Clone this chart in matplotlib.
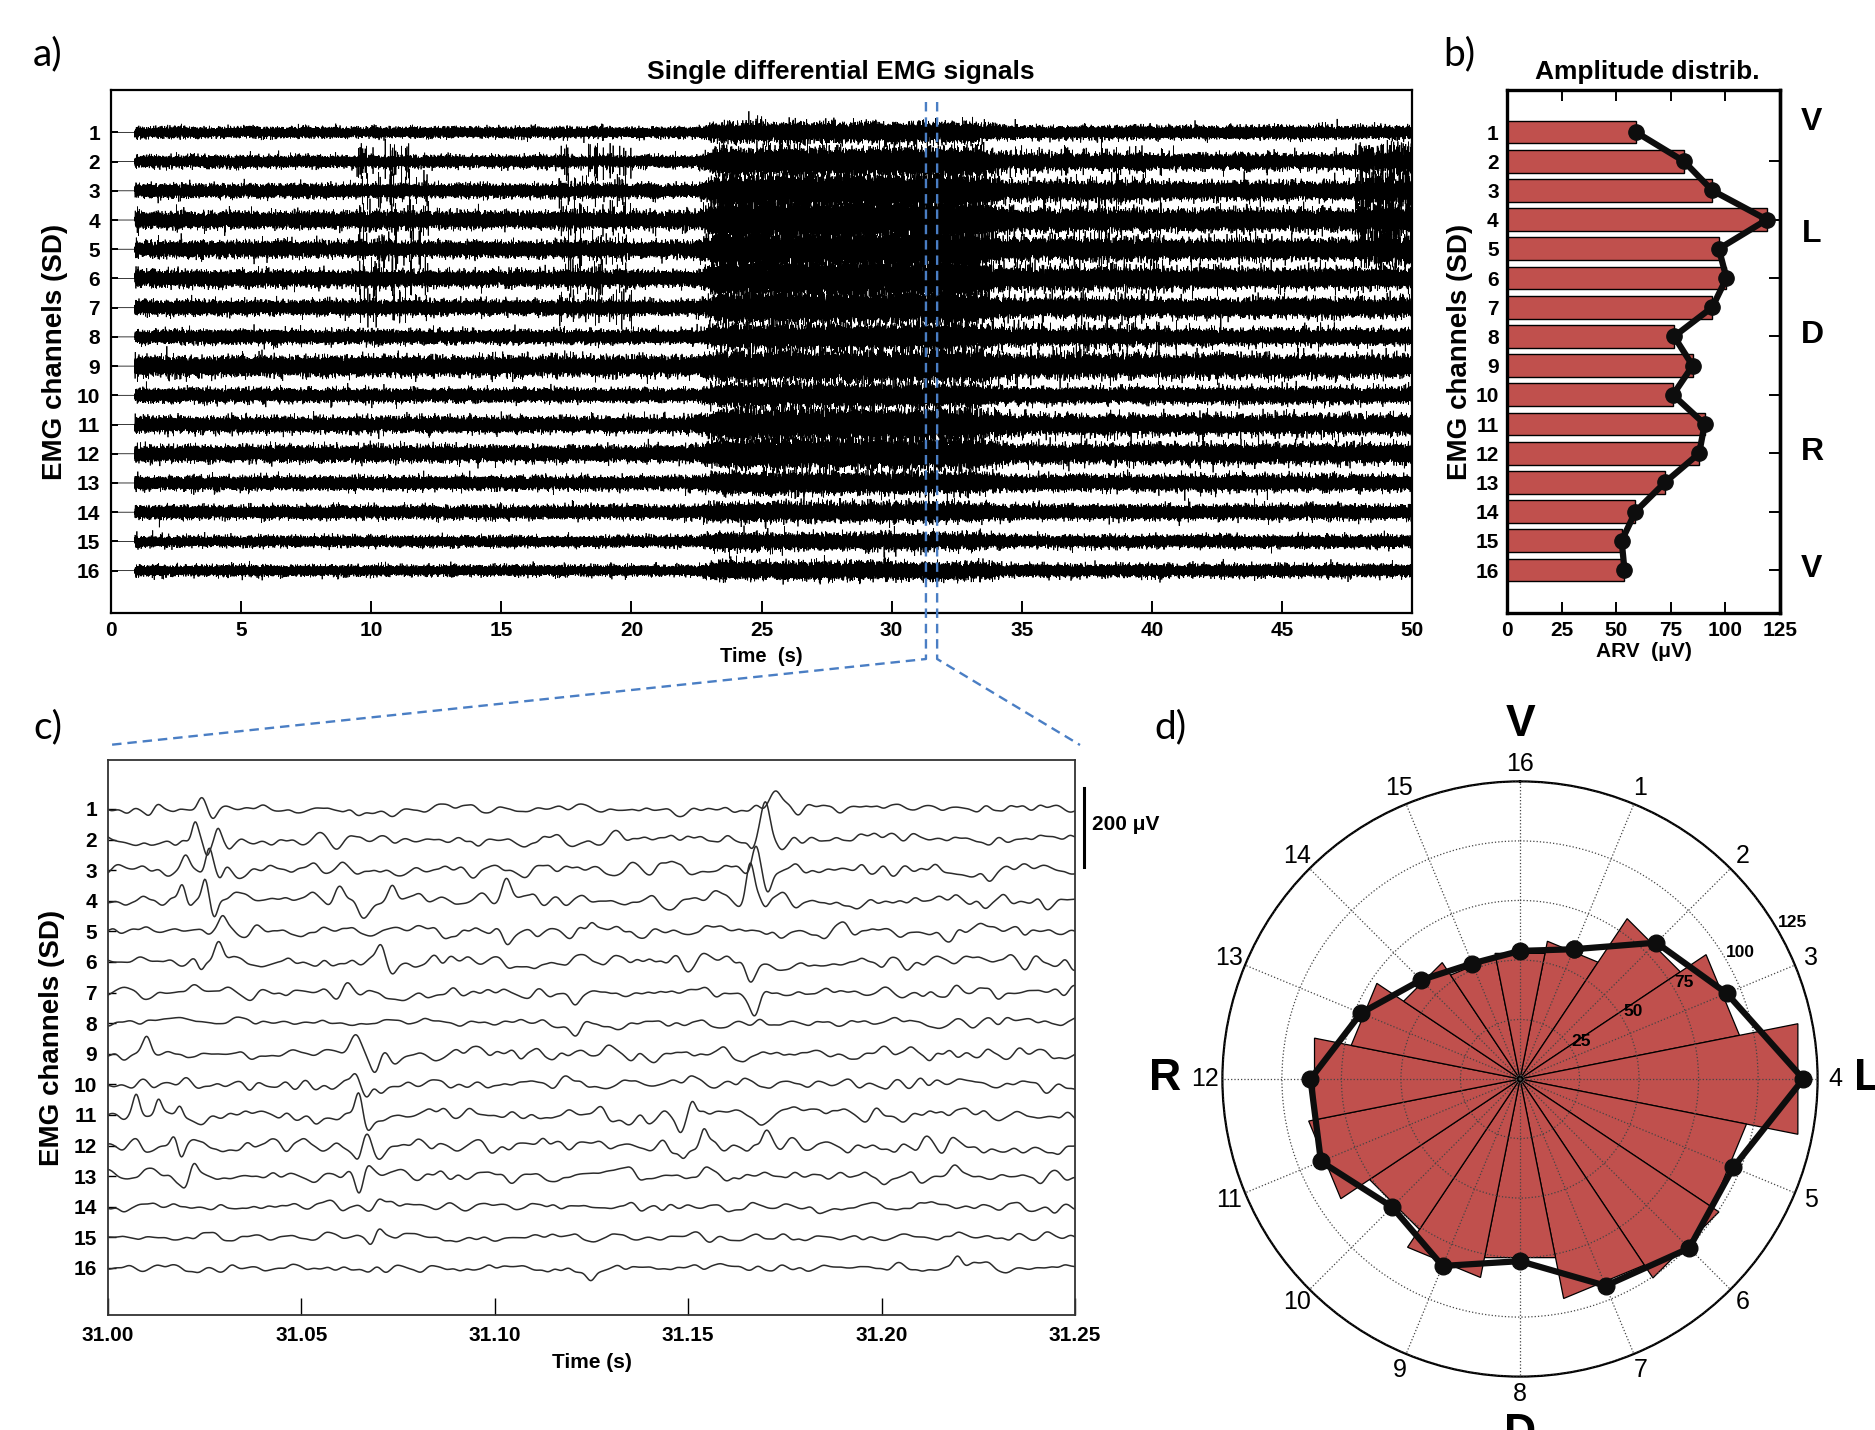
import numpy as np
import matplotlib
matplotlib.use('Agg')
import matplotlib.pyplot as plt
from matplotlib.lines import Line2D
import matplotlib.transforms as mtransforms

plt.rcParams['font.family'] = ['Liberation Sans', 'DejaVu Sans']
plt.rcParams['font.weight'] = 'bold'
plt.rcParams['agg.path.chunksize'] = 20000

# ---------------- data ----------------
channels = list(range(1, 17))
arv_uv = [59, 81, 94, 119, 97, 100.5, 94, 76.5, 85, 76, 90.5, 88, 72.3, 58.8, 52.5, 53.8]
zone_labels = ['V', 'L', 'D', 'R', 'V']
zone_pos = [0.65, 4.5, 7.95, 11.95, 15.95]
arv_ticks = [0, 25, 50, 75, 100, 125]
time_ticks_a = list(range(0, 51, 5))
time_ticks_c = [31.00, 31.05, 31.10, 31.15, 31.20, 31.25]
polar_rings = [25, 50, 75, 100, 125]
polar_letters = ['V', 'L', 'D', 'R']
polar_letter_angle = [0, 90, 180, 270]
polar_letter_r = [149, 146, 149, 149]

# panel a: 50 s recording, amplitude read as half band height (channel-spacing units)
sig_onset_s = 0.92
band_half = [0.18, 0.20, 0.23, 0.28, 0.27, 0.27, 0.25, 0.23, 0.33, 0.23, 0.27, 0.27, 0.23, 0.22, 0.18, 0.18]
burst_gain = [1.9, 2.4, 2.4, 2.3, 2.2, 2.2, 2.1, 1.8, 1.6, 1.7, 2.0, 1.9, 1.6, 1.5, 1.6, 1.7]
activity_t = [0, 22.5, 23.5, 33.0, 34.5, 50]
activity_v = [0, 0, 1, 1, 0.25, 0.25]
# (t_start, t_end, first channel, last channel, spike amplitude, spikes per second)
spike_windows = [(9.5, 12.2, 2, 7, 0.65, 7), (17.2, 20.0, 2, 7, 0.6, 7),
                 (31.5, 40.5, 2, 9, 0.45, 10), (47.8, 50.0, 2, 5, 0.55, 45)]

# panel c: 31.00-31.25 s zoom; background amplitude (spacing units) and visible MUAP events
c_noise_amp = [0.08, 0.10, 0.12, 0.12, 0.11, 0.12, 0.10, 0.08, 0.11, 0.10, 0.13, 0.13, 0.11, 0.08, 0.07, 0.07]
# (channel, time s, amplitude (+ = up, spacing units), width ms)
c_events = [
    (1, 31.0242, 0.42, 1.0), (1, 31.0270, -0.30, 1.0), (1, 31.0110, -0.20, 1.2), (1, 31.0730, -0.33, 1.4),
    (1, 31.1725, 0.40, 1.8), (1, 31.1785, -0.22, 1.2),
    (2, 31.0225, 0.60, 0.8), (2, 31.0255, -0.50, 0.8), (2, 31.0284, 0.50, 0.8), (2, 31.0312, -0.35, 0.9),
    (2, 31.1665, -0.35, 0.9), (2, 31.1700, 1.25, 1.2), (2, 31.1740, -0.30, 1.0),
    (3, 31.0200, 0.45, 1.0), (3, 31.0261, 0.88, 0.9), (3, 31.0290, -0.45, 0.9),
    (3, 31.1675, 0.93, 1.0), (3, 31.1705, -0.70, 1.0),
    (4, 31.0192, 0.60, 0.9), (4, 31.0251, 0.82, 0.8), (4, 31.0275, -0.50, 0.8),
    (4, 31.0600, 0.50, 1.2), (4, 31.0660, -0.50, 1.4), (4, 31.0735, 0.45, 1.0),
    (4, 31.1030, 0.62, 1.1), (4, 31.1660, 1.25, 1.0), (4, 31.1700, -0.30, 1.0),
    (5, 31.0296, 0.35, 0.9), (5, 31.0990, -0.30, 1.0), (5, 31.1030, -0.35, 1.0), (5, 31.1250, 0.30, 1.0),
    (6, 31.0240, -0.35, 0.9), (6, 31.0284, 0.45, 1.0), (6, 31.0705, 0.45, 1.0), (6, 31.0735, -0.40, 1.1),
    (6, 31.1660, -0.70, 1.2),
    (7, 31.1210, -0.45, 1.2), (7, 31.1670, -0.65, 1.2),
    (8, 31.1210, -0.45, 1.2),
    (9, 31.0100, 0.50, 1.0), (9, 31.0640, 0.45, 1.2), (9, 31.0690, -0.60, 1.3),
    (10, 31.0640, 0.35, 1.0), (10, 31.0670, -0.30, 1.0),
    (11, 31.0073, 0.45, 0.8), (11, 31.0130, 0.45, 0.8), (11, 31.0186, 0.40, 0.8),
    (11, 31.0648, 0.50, 0.8), (11, 31.0670, -0.40, 0.9), (11, 31.1480, -0.45, 1.0), (11, 31.1510, 0.45, 0.9),
    (12, 31.0170, 0.35, 0.9), (12, 31.0190, -0.40, 0.9), (12, 31.0648, -0.55, 0.9), (12, 31.0670, 0.35, 1.0),
    (12, 31.1490, -0.40, 1.0), (12, 31.1540, 0.50, 0.9), (12, 31.1700, 0.40, 1.0),
    (13, 31.0200, -0.35, 0.9), (13, 31.0223, 0.45, 0.9), (13, 31.0648, -0.60, 1.0), (13, 31.0670, 0.45, 1.0),
    (14, 31.0700, 0.35, 1.2),
    (15, 31.0680, -0.25, 1.0), (15, 31.0700, 0.30, 1.2),
    (16, 31.1250, -0.30, 1.0), (16, 31.2197, 0.40, 1.2),
]
uv_per_unit = 77.5
scale_bar_uv = 200

red = '#C0504D'
blue = '#4A7EC4'

W, H = 1875, 1430
fig = plt.figure(figsize=(W / 100, H / 100), dpi=100)
rng = np.random.default_rng(11)

# ---------------- panel a ----------------
axA = fig.add_axes([111 / W, 1 - 613 / H, 1301 / W, 523 / H])
fs_a = 1000
t_a = np.arange(0, 50, 1 / fs_a)
prof = np.interp(t_a, activity_t, activity_v)
for i, ch in enumerate(channels):
    env = band_half[i] / 2.3 * (1 + (burst_gain[i] - 1) * prof)
    sig = rng.standard_normal(t_a.size) * env
    idx = np.nonzero(rng.random(t_a.size) < 0.004)[0]
    sig[idx] += rng.choice([-1, 1], idx.size) * env[idx] * rng.uniform(1.5, 2.6, idx.size)
    for (t0, t1, c0, c1, amp, rate) in spike_windows:
        if c0 <= ch <= c1:
            n = int((t1 - t0) * rate)
            pos = rng.integers(int(t0 * fs_a), min(int(t1 * fs_a), t_a.size - 3), n)
            a = amp * rng.uniform(0.6, 1.0, n)
            sig[pos] += a
            sig[pos + 1] -= a * 0.9
    sig[t_a < sig_onset_s] = 0.0
    sig[:12] = rng.standard_normal(12) * band_half[i] * 0.7
    axA.plot(t_a, ch - sig, color='k', lw=0.55, solid_joinstyle='miter')
axA.set_xlim(0, 50)
axA.set_ylim(17.45, -0.45)
axA.set_xticks(time_ticks_a)
axA.set_yticks(channels)
axA.tick_params(axis='both', direction='in', length=9, width=1.4, labelsize=15)
axA.tick_params(axis='y', length=5, pad=8)
axA.tick_params(axis='x', pad=6)
for s in axA.spines.values():
    s.set_linewidth(1.6)
axA.set_xlabel('Time  (s)', fontsize=14.5, fontweight='bold', labelpad=5)
axA.set_ylabel('EMG channels (SD)', fontsize=20, fontweight='bold', labelpad=6)
fig.text(841 / W, 1 - 72 / H, 'Single differential EMG signals', ha='center', va='center',
         fontsize=19, fontweight='bold')

# ---------------- panel b ----------------
axB = fig.add_axes([1507 / W, 1 - 613 / H, 273 / W, 523 / H])
axB.barh(channels, arv_uv, height=0.78, color=red, edgecolor='k', linewidth=1.0, zorder=2)
axB.plot(arv_uv, channels, '-o', color='#0d0d0d', lw=4.5, ms=11, zorder=3, clip_on=False)
axB.set_xlim(0, 125)
axB.set_ylim(17.47, -0.44)
axB.set_xticks(arv_ticks)
axB.set_yticks(channels)
axB.tick_params(axis='x', direction='in', length=8, width=1.4, top=True, labelsize=15, pad=6)
axB.tick_params(axis='y', direction='in', length=0, labelsize=15, pad=6)
secB = axB.secondary_yaxis('right')
secB.set_yticks(channels[1::2])
secB.set_yticklabels([])
secB.tick_params(direction='in', length=8, width=1.4)
secB.spines['right'].set_linewidth(2.4)
for s in axB.spines.values():
    s.set_linewidth(2.4)
axB.set_xlabel('ARV  (\u03bcV)', fontsize=15, fontweight='bold', labelpad=1)
axB.set_ylabel('EMG channels (SD)', fontsize=20, fontweight='bold', labelpad=2)
trB = mtransforms.blended_transform_factory(axB.transAxes, axB.transData)
for lab, p in zip(zone_labels, zone_pos):
    axB.text(1.117, p, lab, transform=trB, ha='center', va='center', fontsize=23, fontweight='bold')
fig.text(1647 / W, 1 - 72 / H, 'Amplitude distrib.', ha='center', va='center',
         fontsize=19, fontweight='bold')

# ---------------- panel c ----------------
axC = fig.add_axes([108 / W, 1 - 1315 / H, 967 / W, 555 / H])
t_c = np.linspace(31.0, 31.25, 1001)
ks = 4.5
kx = np.arange(-18, 19)
kern = np.exp(-kx ** 2 / (2 * ks ** 2))
for i, ch in enumerate(channels):
    raw = rng.standard_normal(t_c.size + kx.size - 1)
    bg = np.convolve(raw, kern, mode='valid')
    bg = bg / bg.std() * c_noise_amp[i]
    sig = bg.copy()
    for (ech, et, ea, ew) in c_events:
        if ech == ch:
            sig += ea * np.exp(-((t_c - et) / (ew * 1e-3)) ** 2 / 2)
    axC.plot(t_c, ch - sig, color='#2b2b2b', lw=1.1)
axC.set_xlim(31.0, 31.25)
axC.set_ylim(17.54, -0.6)
axC.set_xticks(time_ticks_c)
axC.set_xticklabels(['%.2f' % v for v in time_ticks_c], fontsize=15, fontweight='bold')
axC.set_yticks(channels)
axC.tick_params(axis='x', direction='in', length=12, width=1.0, pad=8)
axC.tick_params(axis='y', direction='in', length=6, width=1.0, labelsize=15, pad=8)
for s in axC.spines.values():
    s.set_linewidth(1.3)
    s.set_color('#333333')
axC.set_xlabel('Time (s)', fontsize=15, fontweight='bold', labelpad=6)
axC.set_ylabel('EMG channels (SD)', fontsize=20, fontweight='bold', labelpad=6)
sb_len = scale_bar_uv / uv_per_unit
axC.plot([31.2523, 31.2523], [0.31, 0.31 + sb_len], color='k', lw=2.2, clip_on=False)
axC.text(31.2545, 0.31 + sb_len / 2 - 0.1, '%d \u03bcV' % scale_bar_uv, ha='left', va='center',
         fontsize=15, fontweight='bold')

# ---------------- connectors ----------------
fig.canvas.draw()
xa1 = axA.transData.transform((31.32, 0))[0]
xa2 = axA.transData.transform((31.75, 0))[0]
bbC = axC.get_window_extent()
ytop = H - 102
ybend = H - 659
yend = bbC.y1 + 15
for xa, xe in [(xa1, bbC.x0 + 1), (xa2, bbC.x1 + 5)]:
    fig.add_artist(Line2D([xa / W, xa / W, xe / W], [ytop / H, ybend / H, yend / H],
                          transform=fig.transFigure, color=blue, lw=1.7, ls=(0, (4, 2.5))))

# ---------------- panel d (polar) ----------------
R_px = 297.6
cx, cy = 1520, H - 1079
axD = fig.add_axes([(cx - R_px) / W, (cy - R_px) / H, 2 * R_px / W, 2 * R_px / H], projection='polar')
axD.set_theta_zero_location('N')
axD.set_theta_direction(-1)
theta = np.deg2rad(np.array(channels) * 22.5)
half = np.deg2rad(11.25)
for th, r in zip(theta, arv_uv):
    axD.fill([th - half, th - half, th + half, th + half], [0, r, r, 0],
             facecolor=red, edgecolor='k', linewidth=0.9, zorder=2)
axD.plot(np.append(theta, theta[0]), np.append(arv_uv, arv_uv[0]), '-o', color='#0d0d0d',
         lw=4.5, ms=12, zorder=4, clip_on=False)
axD.set_ylim(0, 125)
axD.set_axisbelow(False)
axD.set_thetagrids(np.array(channels) * 22.5, labels=[str(c) for c in channels],
                   fontsize=18, fontweight='normal')
axD.set_rgrids(polar_rings, labels=[str(r) for r in polar_rings], angle=60,
               fontsize=12.5, fontweight='bold')
axD.grid(True, linestyle=':', color='#444444', linewidth=0.9)
axD.tick_params(axis='x', pad=2)
axD.spines['polar'].set_linewidth(1.6)
for lab, ang, rr in zip(polar_letters, polar_letter_angle, polar_letter_r):
    axD.text(np.deg2rad(ang), rr, lab, ha='center', va='center', fontsize=32,
             fontweight='bold', clip_on=False, zorder=6)

# ---------------- panel letters ----------------
for lab, x, y in [('a)', 48, 54), ('b)', 1459, 54), ('c)', 48, 727), ('d)', 1170, 727)]:
    fig.text(x / W, 1 - y / H, lab, ha='center', va='center', fontsize=28,
             fontweight='normal', family=['Lato', 'DejaVu Sans'])

fig.savefig('out.png', dpi=100)
